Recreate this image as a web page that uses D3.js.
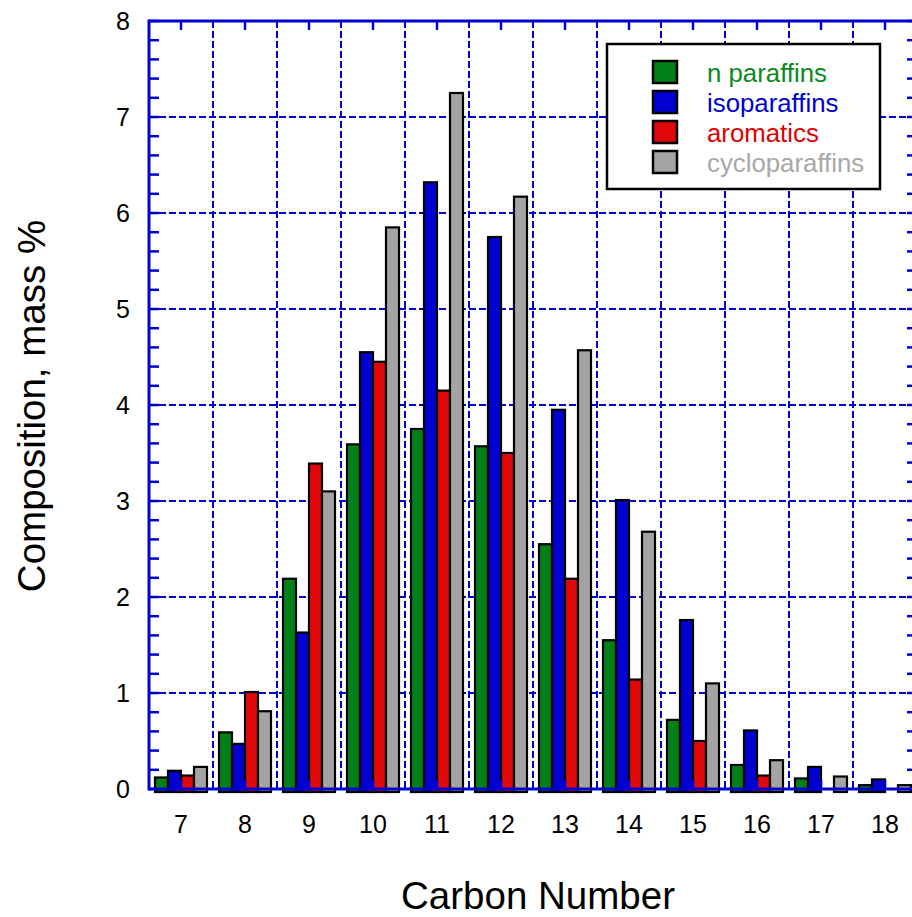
<!DOCTYPE html>
<html>
<head>
<meta charset="utf-8">
<script src="https://cdn.jsdelivr.net/npm/d3@7/dist/d3.min.js"></script>
<style>
  html, body { margin: 0; padding: 0; background: #fff; }
  svg { display: block; font-family: "Liberation Sans", Arial, sans-serif; }
</style>
</head>
<body>
<script>
// Hydrocarbon type composition by carbon number (mass %)
const carbonNumbers = [7, 8, 9, 10, 11, 12, 13, 14, 15, 16, 17, 18];
const seriesNames = ["n paraffins", "isoparaffins", "aromatics", "cycloparaffins"];
const seriesColors = ["#008018", "#0000d0", "#e00808", "#a4a4a4"];
const legendTextColors = ["#0a8a1c", "#0000d0", "#e00000", "#a8a8a8"];

const nParaffins    = [0.12, 0.59, 2.19, 3.59, 3.75, 3.57, 2.55, 1.55, 0.72, 0.25, 0.11, 0.04];
const isoparaffins  = [0.19, 0.47, 1.63, 4.55, 6.32, 5.75, 3.95, 3.01, 1.76, 0.61, 0.23, 0.10];
const aromatics     = [0.14, 1.01, 3.39, 4.45, 4.15, 3.50, 2.19, 1.14, 0.50, 0.14, 0.00, 0.00];
const cycloparaffins= [0.23, 0.81, 3.10, 5.85, 7.25, 6.17, 4.57, 2.68, 1.10, 0.30, 0.13, 0.04];

const yTicks = [0, 1, 2, 3, 4, 5, 6, 7, 8];

const seriesValues = [nParaffins, isoparaffins, aromatics, cycloparaffins];

const W = 912, H = 917;
const plot = { left: 149, right: 917, top: 21, bottom: 789 };
const axisBlue = "#0000d0";

const svg = d3.select("body").append("svg")
  .attr("width", W).attr("height", H);

const x = d3.scaleBand()
  .domain(carbonNumbers)
  .range([plot.left, plot.right])
  .paddingInner(0).paddingOuter(0);

const groupPad = 6;
const xs = d3.scaleBand()
  .domain(d3.range(seriesNames.length))
  .range([groupPad, x.bandwidth() - groupPad])
  .padding(0);

const y = d3.scaleLinear().domain([0, 8]).range([plot.bottom, plot.top]);

// grid: horizontal at integer values, vertical between carbon numbers
const grid = svg.append("g")
  .attr("stroke", axisBlue)
  .attr("stroke-width", 2)
  .attr("stroke-dasharray", "7,3")
  .attr("fill", "none");

grid.selectAll("line.h")
  .data(yTicks.filter(t => t > 0 && t < 8))
  .join("line")
  .attr("class", "h")
  .attr("x1", plot.left).attr("x2", plot.right)
  .attr("y1", d => y(d)).attr("y2", d => y(d));

grid.selectAll("line.v")
  .data(carbonNumbers.slice(1))
  .join("line")
  .attr("class", "v")
  .attr("x1", d => x(d)).attr("x2", d => x(d))
  .attr("y1", plot.top).attr("y2", plot.bottom);

// bars
const bars = svg.append("g");
carbonNumbers.forEach((c, ci) => {
  seriesValues.forEach((vals, si) => {
    const v = vals[ci];
    if (v <= 0) return;
    const x0 = x(c) + xs(si);
    bars.append("rect")
      .attr("x", x0)
      .attr("y", y(v))
      .attr("width", xs.bandwidth())
      .attr("height", y(0) - y(v) + 3)
      .attr("fill", seriesColors[si])
      .attr("stroke", "#000")
      .attr("stroke-width", 2.2);
  });
});

// frame axes
const axes = svg.append("g").attr("stroke", axisBlue).attr("fill", "none");
axes.append("line").attr("x1", plot.left).attr("x2", plot.left)
  .attr("y1", plot.top - 1.5).attr("y2", plot.bottom + 1.5).attr("stroke-width", 3);
axes.append("line").attr("x1", plot.right).attr("x2", plot.right)
  .attr("y1", plot.top - 1.5).attr("y2", plot.bottom + 1.5).attr("stroke-width", 3);
axes.append("line").attr("x1", plot.left).attr("x2", plot.right)
  .attr("y1", plot.top).attr("y2", plot.top).attr("stroke-width", 3);
axes.append("line").attr("x1", plot.left).attr("x2", plot.right)
  .attr("y1", plot.bottom).attr("y2", plot.bottom).attr("stroke-width", 3);

// minor ticks on left/right axes every 0.2
const minorY = d3.range(0, 8.001, 0.2);
axes.selectAll("line.ly").data(minorY).join("line")
  .attr("class", "ly")
  .attr("x1", plot.left).attr("x2", plot.left + 10)
  .attr("y1", d => y(d)).attr("y2", d => y(d))
  .attr("stroke-width", 2.5);
axes.selectAll("line.ry").data(minorY).join("line")
  .attr("class", "ry")
  .attr("x1", plot.right).attr("x2", plot.right - 10)
  .attr("y1", d => y(d)).attr("y2", d => y(d))
  .attr("stroke-width", 2.5);

// ticks at category centres on top and bottom axes
axes.selectAll("line.tx").data(carbonNumbers).join("line")
  .attr("class", "tx")
  .attr("x1", d => x(d) + x.bandwidth() / 2).attr("x2", d => x(d) + x.bandwidth() / 2)
  .attr("y1", plot.top).attr("y2", plot.top + 9)
  .attr("stroke-width", 2.5);
axes.selectAll("line.bx").data(carbonNumbers).join("line")
  .attr("class", "bx")
  .attr("x1", d => x(d) + x.bandwidth() / 2).attr("x2", d => x(d) + x.bandwidth() / 2)
  .attr("y1", plot.bottom).attr("y2", plot.bottom - 9)
  .attr("stroke-width", 2.5);

// tick labels
svg.append("g").selectAll("text").data(yTicks).join("text")
  .attr("x", 130).attr("y", d => y(d))
  .attr("dy", "0.35em")
  .attr("text-anchor", "end")
  .attr("font-size", 25)
  .attr("fill", "#000")
  .text(d => d);

svg.append("g").selectAll("text").data(carbonNumbers).join("text")
  .attr("x", d => x(d) + x.bandwidth() / 2).attr("y", 833)
  .attr("text-anchor", "middle")
  .attr("font-size", 25)
  .attr("fill", "#000")
  .text(d => d);

// axis titles
svg.append("text")
  .attr("transform", "translate(45,406) rotate(-90)")
  .attr("text-anchor", "middle")
  .attr("font-size", 38.5)
  .attr("fill", "#000")
  .text("Composition, mass %");

svg.append("text")
  .attr("x", 538).attr("y", 909)
  .attr("text-anchor", "middle")
  .attr("font-size", 38.5)
  .attr("fill", "#000")
  .text("Carbon Number");

// legend
const lg = svg.append("g");
lg.append("rect")
  .attr("x", 607).attr("y", 44).attr("width", 273).attr("height", 145)
  .attr("fill", "#fff").attr("stroke", "#000").attr("stroke-width", 2.5);
seriesNames.forEach((name, i) => {
  const ry = 61 + i * 30;
  lg.append("rect")
    .attr("x", 653).attr("y", ry).attr("width", 24).attr("height", 22)
    .attr("fill", seriesColors[i]).attr("stroke", "#000").attr("stroke-width", 2.5);
  lg.append("text")
    .attr("x", 707).attr("y", ry + 21)
    .attr("font-size", 25.8)
    .attr("fill", legendTextColors[i])
    .text(name);
});
</script>
</body>
</html>
